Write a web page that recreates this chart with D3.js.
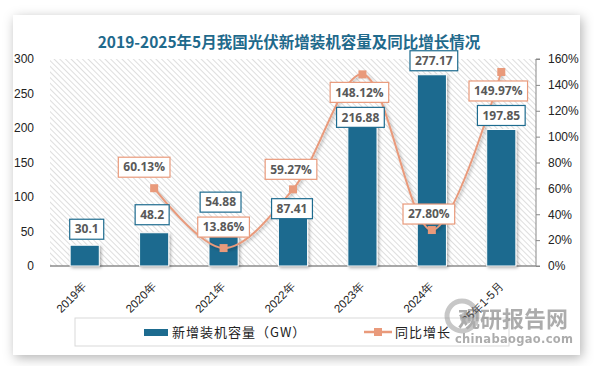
<!DOCTYPE html>
<html>
<head>
<meta charset="utf-8">
<script src="https://cdn.jsdelivr.net/npm/d3@7"></script>
<style>
  html, body { margin: 0; padding: 0; background: #fff; }
  svg { display: block; font-family: "Noto Sans CJK SC", "Noto Sans", sans-serif; }
</style>
</head>
<body>
<div id="chart"></div>
<script>
// data
const years = ["2019年", "2020年", "2021年", "2022年", "2023年", "2024年", "2025年1-5月"];
const capacity = [30.1, 48.2, 54.88, 87.41, 216.88, 277.17, 197.85];   // GW
const growth = [null, 60.13, 13.86, 59.27, 148.12, 27.80, 149.97];      // %
const leftTicks = [0, 50, 100, 150, 200, 250, 300];
const rightTicks = [0, 20, 40, 60, 80, 100, 120, 140, 160];

// label nudges (px) so boxes don't collide, like the original
const barLabelNudge = [[2, -16], [-2, -18], [-3, -26], [-1, 3], [-2, 1], [2, -14], [0, -14]];
const lineLabelNudge = [null, [-10, -21], [0, -21], [-2, -20], [-3, 18], [-3, -16], [-3, 19]];

const W = 594, H = 366;
const blue = "#1d6b8f", orange = "#e99a7b";
const m = { left: 50, right: 536, top: 59, bottom: 266 };

const svg = d3.select("#chart").append("svg")
  .attr("width", W).attr("height", H);

const defs = svg.append("defs");
const cardShadow = defs.append("filter").attr("id", "cardShadow")
  .attr("x", "-10%").attr("y", "-10%").attr("width", "120%").attr("height", "120%");
cardShadow.append("feDropShadow").attr("dx", 2).attr("dy", 3).attr("stdDeviation", 6)
  .attr("flood-color", "#000").attr("flood-opacity", 0.3);

const barShadow = defs.append("filter").attr("id", "barShadow")
  .attr("x", "-30%").attr("y", "-30%").attr("width", "160%").attr("height", "160%");
barShadow.append("feDropShadow").attr("dx", 1.5).attr("dy", 1.5).attr("stdDeviation", 1.5)
  .attr("flood-color", "#000").attr("flood-opacity", 0.3);

const hatch = defs.append("pattern").attr("id", "hatch")
  .attr("patternUnits", "userSpaceOnUse").attr("width", 4).attr("height", 4)
  .attr("patternTransform", "rotate(-45)");
hatch.append("rect").attr("width", 4).attr("height", 4).attr("fill", "#fff");
hatch.append("line").attr("x1", 0).attr("y1", 0).attr("x2", 0).attr("y2", 4)
  .attr("stroke", "#c9c9c9").attr("stroke-width", 1.2);

// card
svg.append("rect").attr("x", 13).attr("y", 15).attr("width", 567).attr("height", 340)
  .attr("fill", "#fff").attr("filter", "url(#cardShadow)");

// title
svg.append("text").attr("x", 289).attr("y", 48).attr("text-anchor", "middle")
  .attr("font-size", 15.5).attr("font-weight", "bold").attr("fill", "#1f6a8c")
  .text("2019-2025年5月我国光伏新增装机容量及同比增长情况");

// scales
const x = d3.scaleBand().domain(years).range([m.left, m.right]).paddingInner(0.58).paddingOuter(0.29);
const y = d3.scaleLinear().domain([0, 300]).range([m.bottom, m.top]);
const y2 = d3.scaleLinear().domain([0, 160]).range([m.bottom, m.top]);
const cx = d => x(d) + x.bandwidth() / 2;

// plot background
svg.append("rect").attr("x", m.left).attr("y", m.top)
  .attr("width", m.right - m.left).attr("height", m.bottom - m.top)
  .attr("fill", "url(#hatch)");

// left axis (labels only)
const yAxis = svg.append("g").attr("transform", `translate(${m.left - 16},0)`)
  .call(d3.axisLeft(y).tickValues(leftTicks).tickSize(0).tickPadding(0));
yAxis.select(".domain").remove();
yAxis.selectAll("text").attr("font-size", 12).attr("fill", "#222")
  .attr("font-family", "Liberation Sans, Arial, sans-serif");

// right axis
const y2Axis = svg.append("g").attr("transform", `translate(${m.right},0)`)
  .call(d3.axisRight(y2).tickValues(rightTicks).tickSize(4).tickPadding(8)
    .tickFormat(d => d + "%"));
y2Axis.select(".domain").attr("stroke", "#888").attr("d", `M4,${m.top}H0V${m.bottom}H4`);
y2Axis.selectAll("line").attr("stroke", "#888");
y2Axis.selectAll("text").attr("font-size", 12).attr("fill", "#222")
  .attr("font-family", "Liberation Sans, Arial, sans-serif");

// bottom axis
const xAxis = svg.append("g").attr("transform", `translate(0,${m.bottom})`)
  .call(d3.axisBottom(x).tickSize(0).tickPadding(0));
xAxis.select(".domain").attr("stroke", "#8c8c8c").attr("stroke-width", 1.3)
  .attr("d", `M${m.left},0H${m.right}`);
xAxis.selectAll("text")
  .attr("text-anchor", "end").attr("font-size", 11.5).attr("fill", "#222")
  .attr("dy", 0)
  .attr("transform", "translate(3,21) rotate(-45)");

// bars
svg.append("g").selectAll("rect").data(capacity).join("rect")
  .attr("x", (d, i) => x(years[i]))
  .attr("y", d => y(d))
  .attr("width", x.bandwidth())
  .attr("height", d => y(0) - y(d))
  .attr("fill", blue).attr("stroke", "#fff").attr("stroke-width", 1)
  .attr("filter", "url(#barShadow)");

// line
const pts = growth.map((v, i) => v == null ? null : [cx(years[i]), y2(v)]).filter(p => p);
svg.append("path").datum(pts)
  .attr("d", d3.line().curve(d3.curveCatmullRom.alpha(0.5)))
  .attr("fill", "none").attr("stroke", orange).attr("stroke-width", 2)
  .attr("filter", "url(#barShadow)");
svg.append("g").selectAll("rect").data(pts).join("rect")
  .attr("x", d => d[0] - 4).attr("y", d => d[1] - 4)
  .attr("width", 8).attr("height", 8).attr("fill", orange);

// boxed labels
function boxLabel(g, px, py, txt, border) {
  const t = g.append("text").attr("x", px).attr("y", py).attr("dy", "0.35em")
    .attr("text-anchor", "middle").attr("font-size", 12).attr("font-weight", "bold")
    .attr("fill", "#595959").attr("font-family", "Open Sans, Liberation Sans, sans-serif")
    .text(txt);
  const w = t.node().getComputedTextLength() + 10;
  g.insert("rect", "text").attr("x", px - w / 2).attr("y", py - 10)
    .attr("width", w).attr("height", 20)
    .attr("fill", "#fff").attr("stroke", border).attr("stroke-width", 1.2);
}
capacity.forEach((v, i) => {
  const g = svg.append("g");
  boxLabel(g, cx(years[i]) + barLabelNudge[i][0], y(v) + barLabelNudge[i][1], String(v), blue);
});
growth.forEach((v, i) => {
  if (v == null) return;
  const g = svg.append("g");
  boxLabel(g, cx(years[i]) + lineLabelNudge[i][0], y2(v) + lineLabelNudge[i][1], v.toFixed(2) + "%", orange);
});

// legend
const lg = svg.append("g");
lg.append("rect").attr("x", 75).attr("y", 318).attr("width", 434).attr("height", 28)
  .attr("fill", "#fff").attr("stroke", "#d9d9d9").attr("stroke-width", 1);
lg.append("rect").attr("x", 144).attr("y", 329).attr("width", 24).attr("height", 7).attr("fill", blue);
lg.append("text").attr("x", 172).attr("y", 332).attr("dy", "0.35em")
  .attr("font-size", 13).attr("fill", "#222").attr("letter-spacing", 1).text("新增装机容量（GW）");
lg.append("line").attr("x1", 364).attr("x2", 392).attr("y1", 332).attr("y2", 332)
  .attr("stroke", orange).attr("stroke-width", 2.5);
lg.append("rect").attr("x", 374).attr("y", 328).attr("width", 8).attr("height", 8).attr("fill", orange);
lg.append("text").attr("x", 395).attr("y", 332).attr("dy", "0.35em")
  .attr("font-size", 13).attr("fill", "#222").attr("letter-spacing", 1).text("同比增长");

// watermark
const wm = svg.append("g").attr("opacity", 0.55);
wm.append("circle").attr("cx", 462).attr("cy", 316).attr("r", 15)
  .attr("fill", "none").attr("stroke", "#9a9a9a").attr("stroke-width", 5);
wm.append("circle").attr("cx", 466).attr("cy", 318).attr("r", 6).attr("fill", "#8a8a8a");
wm.append("text").attr("x", 458).attr("y", 327).attr("font-size", 22).attr("font-weight", "bold")
  .attr("fill", "#6a6a6a").text("观研报告网");
wm.append("text").attr("x", 455).attr("y", 343).attr("font-size", 11.5).attr("font-weight", "bold")
  .attr("fill", "#6a6a6a").attr("font-family", "DejaVu Sans, sans-serif").attr("letter-spacing", 0.3)
  .text("chinabaogao.com");
</script>
</body>
</html>
